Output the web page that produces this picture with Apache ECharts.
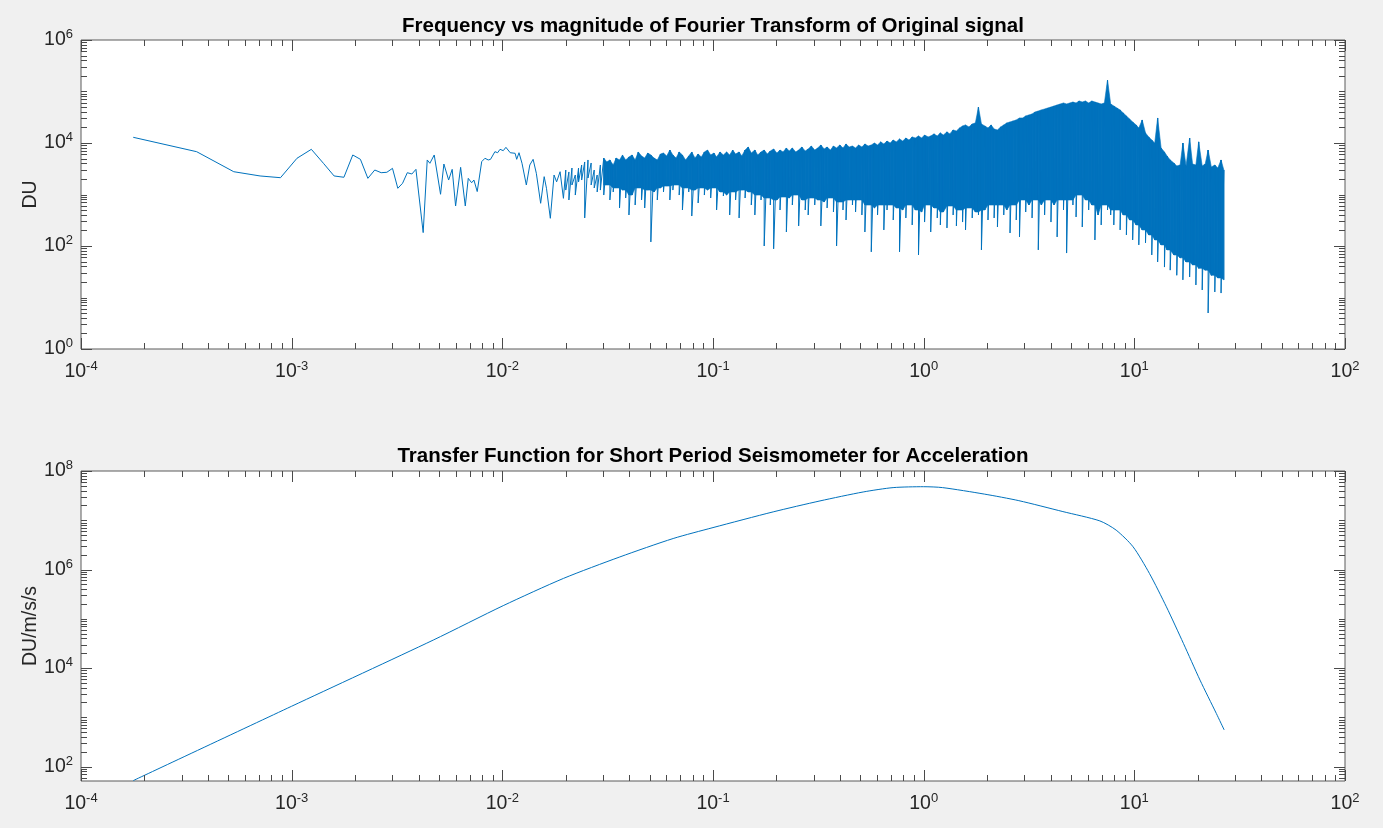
<!DOCTYPE html>
<html><head><meta charset="utf-8">
<script src="https://cdn.jsdelivr.net/npm/echarts@6/dist/echarts.min.js"></script>
<style>html,body{margin:0;padding:0;background:#f0f0f0;}#c{width:1383px;height:828px;}</style>
</head><body><div id="c"></div>
<script>
const titles = ['Frequency vs magnitude of Fourier Transform of Original signal',
                'Transfer Function for Short Period Seismometer for Acceleration'];
const yNames = ['DU', 'DU/m/s/s'];
const xLabelExps = [-4, -3, -2, -1, 0, 1, 2];
const yTopLabelExps = [0, 2, 4, 6];
const yBotLabelExps = [2, 4, 6, 8];

// Fourier magnitude: low-frequency resolved samples
const sparseFreq = [0.000177, 0.000354, 0.000531, 0.000708, 0.000885, 0.00106, 0.00124, 0.00142, 0.00159, 0.00177,
  0.00195, 0.00212, 0.00230, 0.00248, 0.00266, 0.00283, 0.00301, 0.00319, 0.00336, 0.00354,
  0.00372, 0.00389, 0.00421, 0.00440, 0.00453, 0.00475, 0.00509, 0.00528, 0.00556, 0.00578,
  0.00600, 0.00634, 0.00667, 0.00689, 0.00715, 0.00733, 0.00760, 0.00798, 0.00827, 0.00857,
  0.00879, 0.00922, 0.00950, 0.00975, 0.0101, 0.0104, 0.0109, 0.0115, 0.0117, 0.0120,
  0.0124, 0.0130, 0.0135, 0.0140, 0.0145, 0.0152, 0.0158, 0.0162, 0.0169, 0.0176,
  0.0181, 0.0188, 0.0195];
const sparseMag = [12900, 6780, 2770, 2290, 2120, 5050, 7540, 3970, 2290, 2160,
  5850, 4820, 2060, 2990, 2650, 2700, 3220, 1320, 1650, 2650,
  2500, 3080, 182, 4680, 4040, 5850, 1010, 3910, 1910, 3080,
  598, 3370, 598, 2060, 1690, 1910, 1140, 4340, 5050, 4680,
  4820, 6780, 6480, 7540, 7100, 8240, 6480, 6310, 4820, 6480,
  4040, 1530, 3740, 4820, 2580, 675, 2220, 1320, 345, 2390,
  1760, 2770, 843];

// Fourier magnitude: dense band (upper and lower excursions at each frequency)
const denseFreq = [
  0.0200, 0.0207, 0.0214, 0.0222, 0.0230, 0.0238, 0.0246, 0.0255, 0.0264, 0.0273,
  0.0282, 0.0292, 0.0303, 0.0313, 0.0324, 0.0336, 0.0347, 0.0360, 0.0372, 0.0385,
  0.0399, 0.0413, 0.0427, 0.0442, 0.0458, 0.0474, 0.0490, 0.0507, 0.0525, 0.0544,
  0.0563, 0.0582, 0.0603, 0.0624, 0.0645, 0.0668, 0.0691, 0.0716, 0.0741, 0.0767,
  0.0793, 0.0821, 0.0850, 0.0880, 0.0910, 0.0942, 0.0975, 0.101, 0.104, 0.108,
  0.112, 0.116, 0.120, 0.124, 0.128, 0.133, 0.137, 0.142, 0.147, 0.152,
  0.158, 0.163, 0.169, 0.175, 0.181, 0.187, 0.194, 0.201, 0.208, 0.215,
  0.223, 0.230, 0.238, 0.247, 0.255, 0.264, 0.274, 0.283, 0.293, 0.304,
  0.314, 0.325, 0.337, 0.348, 0.361, 0.373, 0.386, 0.400, 0.414, 0.428,
  0.443, 0.459, 0.475, 0.491, 0.509, 0.526, 0.545, 0.564, 0.584, 0.604,
  0.625, 0.647, 0.670, 0.693, 0.717, 0.742, 0.768, 0.795, 0.823, 0.852,
  0.882, 0.913, 0.945, 0.978, 1.01, 1.05, 1.08, 1.12, 1.16, 1.20,
  1.24, 1.29, 1.33, 1.38, 1.43, 1.48, 1.53, 1.58, 1.64, 1.70,
  1.76, 1.82, 1.88, 1.95, 2.02, 2.09, 2.16, 2.24, 2.32, 2.40,
  2.48, 2.57, 2.66, 2.75, 2.85, 2.95, 3.05, 3.16, 3.27, 3.38,
  3.50, 3.62, 3.75, 3.88, 4.02, 4.16, 4.30, 4.45, 4.61, 4.77,
  4.94, 5.11, 5.29, 5.47, 5.66, 5.86, 6.07, 6.28, 6.50, 6.73,
  6.96, 7.21, 7.46, 7.72, 7.99, 8.27, 8.56, 8.86, 9.17, 9.49,
  9.82, 10.2, 10.5, 10.9, 11.3, 11.7, 12.1, 12.5, 12.9, 13.4,
  13.9, 14.3, 14.8, 15.4, 15.9, 16.5, 17.0, 17.6, 18.3, 18.9,
  19.6, 20.2, 21.0, 21.7, 22.4, 23.2, 24.1, 24.9, 25.8, 26.6];
const denseHigh = [
  2990, 2740, 3270, 2390, 3270, 3740, 4280, 4680, 4090, 2990,
  2390, 3740, 5110, 4280, 4680, 3740, 5110, 4680, 5850, 4680,
  5350, 5850, 4680, 6690, 5590, 5110, 6390, 5850, 5110, 4680,
  6110, 6390, 5590, 7310, 5850, 5110, 6690, 5850, 4680, 5590,
  6690, 5110, 6110, 5350, 6690, 7310, 5850, 6390, 5350, 6690,
  5850, 6690, 5850, 7310, 6110, 6690, 5590, 7310, 8360, 6390,
  7310, 5850, 6690, 7310, 6110, 6990, 7650, 6390, 7310, 6690,
  8000, 6990, 8000, 6690, 7310, 8360, 6990, 7650, 8740, 7310,
  8000, 9140, 7650, 8360, 7310, 8740, 8000, 9140, 8000, 9570,
  8360, 8740, 8000, 9140, 8360, 9570, 8740, 9140, 10000, 9140,
  10500, 9570, 10900, 10000, 11400, 10500, 12000, 10900, 12500, 11400,
  13100, 12500, 13700, 12500, 14300, 13100, 13700, 15000, 13700, 15700,
  14300, 16400, 15000, 17900, 17100, 19600, 21400, 22400, 20500, 23400,
  24500, 50000, 23400, 21400, 19600, 22400, 18700, 17900, 20500, 22400,
  24500, 25600, 26800, 28000, 30600, 30600, 33500, 35000, 36600, 40000,
  41800, 43800, 45700, 47800, 50000, 52300, 54700, 57200, 59800, 57200,
  59800, 62500, 59800, 65400, 62500, 65400, 59800, 65400, 62500, 59800,
  57200, 59800, 167000, 57200, 52300, 47800, 43800, 38300, 33500, 29300,
  25600, 22400, 19600, 28000, 15700, 13100, 11400, 10000, 30600, 8000,
  6690, 5590, 4680, 4090, 3580, 3740, 10000, 3580, 12500, 3910,
  3740, 10500, 3580, 3910, 7310, 3420, 3740, 3270, 4680, 2990];
const denseLow = [
  1220, 782, 1530, 977, 1750, 1910, 350, 2090, 1530, 1340,
  1120, 1220, 977, 1530, 782, 1120, 1340, 547, 1220, 855,
  400, 977, 625, 1340, 782, 547, 1220, 120, 1120, 782,
  1340, 1120, 1460, 782, 1220, 1530, 977, 500, 1340, 1120,
  382, 1220, 684, 1340, 977, 1220, 855, 1340, 500, 1120,
  935, 977, 400, 1120, 782, 350, 1220, 855, 1120, 625,
  400, 977, 782, 100, 855, 625, 88, 782, 500, 894,
  187, 855, 625, 977, 245, 782, 500, 400, 855, 625,
  782, 245, 715, 547, 855, 457, 100, 715, 500, 320,
  782, 625, 457, 782, 400, 187, 625, 77, 547, 400,
  625, 205, 500, 625, 320, 547, 77, 500, 350, 625,
  256, 500, 67, 457, 292, 625, 187, 547, 350, 256,
  457, 224, 598, 400, 245, 500, 292, 205, 547, 350,
  457, 400, 84, 500, 320, 625, 350, 234, 625, 400,
  500, 179, 625, 320, 150, 782, 457, 625, 350, 782,
  84, 625, 400, 782, 292, 625, 150, 782, 500, 73,
  782, 625, 366, 977, 234, 782, 500, 625, 131, 400,
  256, 625, 500, 400, 256, 500, 205, 400, 164, 320,
  131, 256, 105, 205, 115, 164, 67, 131, 49, 105,
  39, 84, 34, 67, 27, 59, 22, 49, 25, 43,
  17.5, 37, 14, 34, 5, 27, 12.8, 24, 12.2, 22];

// Transfer function
const tfFreq = [0.000177, 0.001, 0.0047, 0.0101, 0.0195, 0.0361, 0.0647, 0.1, 0.193, 0.322,
  0.516, 0.716, 1.0, 1.23, 1.94, 2.83, 4.58, 6.86, 8.2, 9.86,
  11.8, 14.2, 17.1, 20.5, 24.5, 26.7];
const tfMag = [52, 1680, 37000, 185000, 660000, 1800000, 4260000, 7100000, 14800000, 24700000,
  37500000, 46000000, 48000000, 46000000, 34000000, 25000000, 15000000, 9700000, 6300000, 2900000,
  830000, 175000, 31700, 5700, 1200, 555];

const X_MIN = 1e-4, X_MAX = 100;
const Y1_MIN = 1, Y1_MAX = 1e6;
const Y2_MIN = 51, Y2_MAX = 1e8;
const FILL_START = 12;

const topData = sparseFreq.map((f, i) => [f, sparseMag[i]]);
denseFreq.forEach((f, i) => { topData.push([f, denseHigh[i]]); topData.push([f, denseLow[i]]); });
// solid core of the band: upper excursion down to the shallowest neighbouring lower excursion
const bandData = [];
for (let i = FILL_START; i < denseFreq.length; i++) {
  const lo = Math.max(denseLow[i], denseLow[Math.max(i - 1, 0)], denseLow[Math.min(i + 1, denseLow.length - 1)]);
  bandData.push([denseFreq[i], denseHigh[i], lo]);
}
const botData = tfFreq.map((f, i) => [f, tfMag[i]]);

const FONT = 'Liberation Sans, Arial, Helvetica, sans-serif';
const TXT = '#262626';
const BLUE = '#0072BD';

function expLabel(allowed) {
  return function (v) {
    const l = Math.log10(v);
    const e = Math.round(l);
    if (Math.abs(l - e) > 1e-6 || allowed.indexOf(e) < 0) return '';
    return '{b|10}{s|' + e + '}';
  };
}
const rich = {
  b: { fontSize: 19.5, fontFamily: FONT, color: TXT },
  s: { fontSize: 13, fontFamily: FONT, color: TXT, padding: [0, 0, 11, 0] }
};

function tickItems(yMin, yMax, yMajor) {
  const items = [];
  for (let e = -4; e <= 2; e++) {
    const base = Math.pow(10, e);
    items.push([base, yMin, 0, 1]);
    if (e < 2) for (let m = 2; m <= 9; m++) items.push([m * base, yMin, 0, 0]);
  }
  for (let e = Math.floor(Math.log10(yMin)); e <= Math.round(Math.log10(yMax)); e++) {
    const base = Math.pow(10, e);
    for (let m = 1; m <= 9; m++) {
      const v = m * base;
      if (v < yMin * 0.999 || v > yMax * 1.001) continue;
      items.push([X_MIN, v, 1, (m === 1 && yMajor.indexOf(e) >= 0) ? 1 : 0]);
    }
  }
  return items;
}
function renderTicks(params, api) {
  const cs = params.coordSys;
  const p = api.coord([api.value(0), api.value(1)]);
  const len = api.value(3) ? 11 : 6;
  const style = { stroke: '#4a4a4a', lineWidth: 1 };
  if (api.value(2) === 0) {
    const x = Math.round(p[0]) + 0.5;
    return { type: 'group', children: [
      { type: 'line', shape: { x1: x, y1: cs.y + cs.height, x2: x, y2: cs.y + cs.height - len }, style: style },
      { type: 'line', shape: { x1: x, y1: cs.y, x2: x, y2: cs.y + len }, style: style }
    ] };
  }
  const y = Math.round(p[1]) + 0.5;
  return { type: 'group', children: [
    { type: 'line', shape: { x1: cs.x, y1: y, x2: cs.x + len, y2: y }, style: style },
    { type: 'line', shape: { x1: cs.x + cs.width, y1: y, x2: cs.x + cs.width - len, y2: y }, style: style }
  ] };
}
function renderBand(params, api) {
  const i = params.dataIndexInside;
  if (i >= params.dataInsideLength - 1) return null;
  const a = api.coord([api.value(0, i), api.value(1, i)]);
  const b = api.coord([api.value(0, i + 1), api.value(1, i + 1)]);
  const c = api.coord([api.value(0, i + 1), api.value(2, i + 1)]);
  const d = api.coord([api.value(0, i), api.value(2, i)]);
  return { type: 'polygon', shape: { points: [a, b, c, d] },
    style: { fill: BLUE, stroke: BLUE, lineWidth: 0.6 } };
}

function xAxis(gi) {
  return {
    type: 'log', logBase: 10, gridIndex: gi, min: X_MIN, max: X_MAX, splitNumber: 6,
    axisLine: { show: false }, axisTick: { show: false }, splitLine: { show: false },
    axisLabel: { margin: 11, interval: 0, formatter: expLabel(xLabelExps), rich: rich,
      showMinLabel: true, showMaxLabel: true }
  };
}
function yAxis(gi, mn, mx, exps, name) {
  return {
    type: 'log', logBase: 10, gridIndex: gi, min: mn, max: mx, splitNumber: 6,
    name: name, nameLocation: 'middle', nameGap: 40, nameRotate: 90, nameMoveOverlap: false,
    nameTextStyle: { fontSize: 19.5, fontFamily: FONT, color: TXT },
    axisLine: { show: false }, axisTick: { show: false }, splitLine: { show: false },
    axisLabel: { margin: 8, interval: 0, formatter: expLabel(exps), rich: rich,
      showMinLabel: true, showMaxLabel: true }
  };
}

const chart = echarts.init(document.getElementById('c'), null, { renderer: 'canvas' });
chart.setOption({
  animation: false,
  backgroundColor: '#f0f0f0',
  title: [
    { text: titles[0], left: 713, top: 16, textAlign: 'center', padding: 0,
      textStyle: { fontSize: 20.5, fontWeight: 'bold', fontFamily: FONT, color: '#000' } },
    { text: titles[1], left: 713, top: 446, textAlign: 'center', padding: 0,
      textStyle: { fontSize: 20.5, fontWeight: 'bold', fontFamily: FONT, color: '#000' } }
  ],
  grid: [
    { left: 81, top: 40, width: 1264, height: 309, show: true, backgroundColor: '#ffffff', borderColor: '#5a5a5a', borderWidth: 1 },
    { left: 81, top: 471, width: 1264, height: 310, show: true, backgroundColor: '#ffffff', borderColor: '#5a5a5a', borderWidth: 1 }
  ],
  xAxis: [xAxis(0), xAxis(1)],
  yAxis: [yAxis(0, Y1_MIN, Y1_MAX, yTopLabelExps, yNames[0]), yAxis(1, Y2_MIN, Y2_MAX, yBotLabelExps, yNames[1])],
  series: [
    { type: 'custom', xAxisIndex: 0, yAxisIndex: 0, data: bandData, renderItem: renderBand,
      silent: true, z: 2, encode: { x: 0, y: [1, 2] } },
    { type: 'line', xAxisIndex: 0, yAxisIndex: 0, data: topData, symbol: 'none', sampling: null,
      lineStyle: { color: BLUE, width: 1 }, z: 3 },
    { type: 'line', xAxisIndex: 1, yAxisIndex: 1, data: botData, symbol: 'none', smooth: 0.25,
      lineStyle: { color: BLUE, width: 1 }, z: 3 },
    { type: 'custom', xAxisIndex: 0, yAxisIndex: 0, data: tickItems(Y1_MIN, Y1_MAX, yTopLabelExps),
      renderItem: renderTicks, silent: true, z: 4, encode: { x: 0, y: 1 } },
    { type: 'custom', xAxisIndex: 1, yAxisIndex: 1, data: tickItems(Y2_MIN, Y2_MAX, yBotLabelExps),
      renderItem: renderTicks, silent: true, z: 4, encode: { x: 0, y: 1 } }
  ]
});
</script></body></html>
